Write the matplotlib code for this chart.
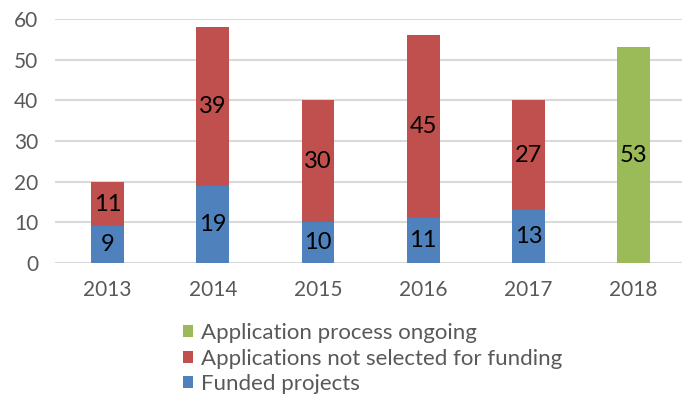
import matplotlib.pyplot as plt
import numpy as np

years = ["2013", "2014", "2015", "2016", "2017", "2018"]
funded = [9, 19, 10, 11, 13, 0]
not_selected = [11, 39, 30, 45, 27, 0]
ongoing = [0, 0, 0, 0, 0, 53]

plt.rcParams["font.family"] = ["Lato", "DejaVu Sans"]

fig = plt.figure(figsize=(6.82, 4.07), dpi=100)
ax = fig.add_axes([55 / 682, 144 / 407, 627 / 682, 244 / 407])

x = np.arange(len(years))
w = 0.31
blue, red, green = "#4F81BD", "#C0504D", "#9BBB59"

b1 = ax.bar(x, funded, w, color=blue, label="Funded projects", zorder=3)
b2 = ax.bar(x, not_selected, w, bottom=funded, color=red,
            label="Applications not selected for funding", zorder=3)
b3 = ax.bar(x, ongoing, w, bottom=np.add(funded, not_selected), color=green,
            label="Application process ongoing", zorder=3)

for bars, vals in ((b1, funded), (b2, not_selected), (b3, ongoing)):
    for rect, v in zip(bars, vals):
        if v:
            ax.text(rect.get_x() + rect.get_width() / 2, rect.get_y() + v / 2, str(v),
                    ha="center", va="center", fontsize=17, color="black", zorder=4)

ax.set_ylim(0, 60)
ax.set_xlim(-0.5, 5.46)
ax.set_yticks(range(0, 61, 10))
ax.set_xticks(x, labels=years)
ax.yaxis.grid(True, color="#D9D9D9", linewidth=1.5, zorder=0)
for s in ax.spines.values():
    s.set_visible(False)
ax.tick_params(length=0, labelsize=15, labelcolor="#595959")
ax.tick_params(axis="y", pad=12)
ax.tick_params(axis="x", pad=12)
ax.axhline(0, color="#D9D9D9", linewidth=1.5, zorder=1)

handles = [b3, b2, b1]
leg = fig.legend(handles, [h.get_label() for h in handles], loc="upper left",
                 bbox_to_anchor=(163 / 682, 1 - 303 / 407), frameon=False,
                 fontsize=16, handlelength=0.45, handleheight=0.45, handletextpad=0.35,
                 labelspacing=0.25, labelcolor="#595959")

fig.savefig("out.png", dpi=100)
